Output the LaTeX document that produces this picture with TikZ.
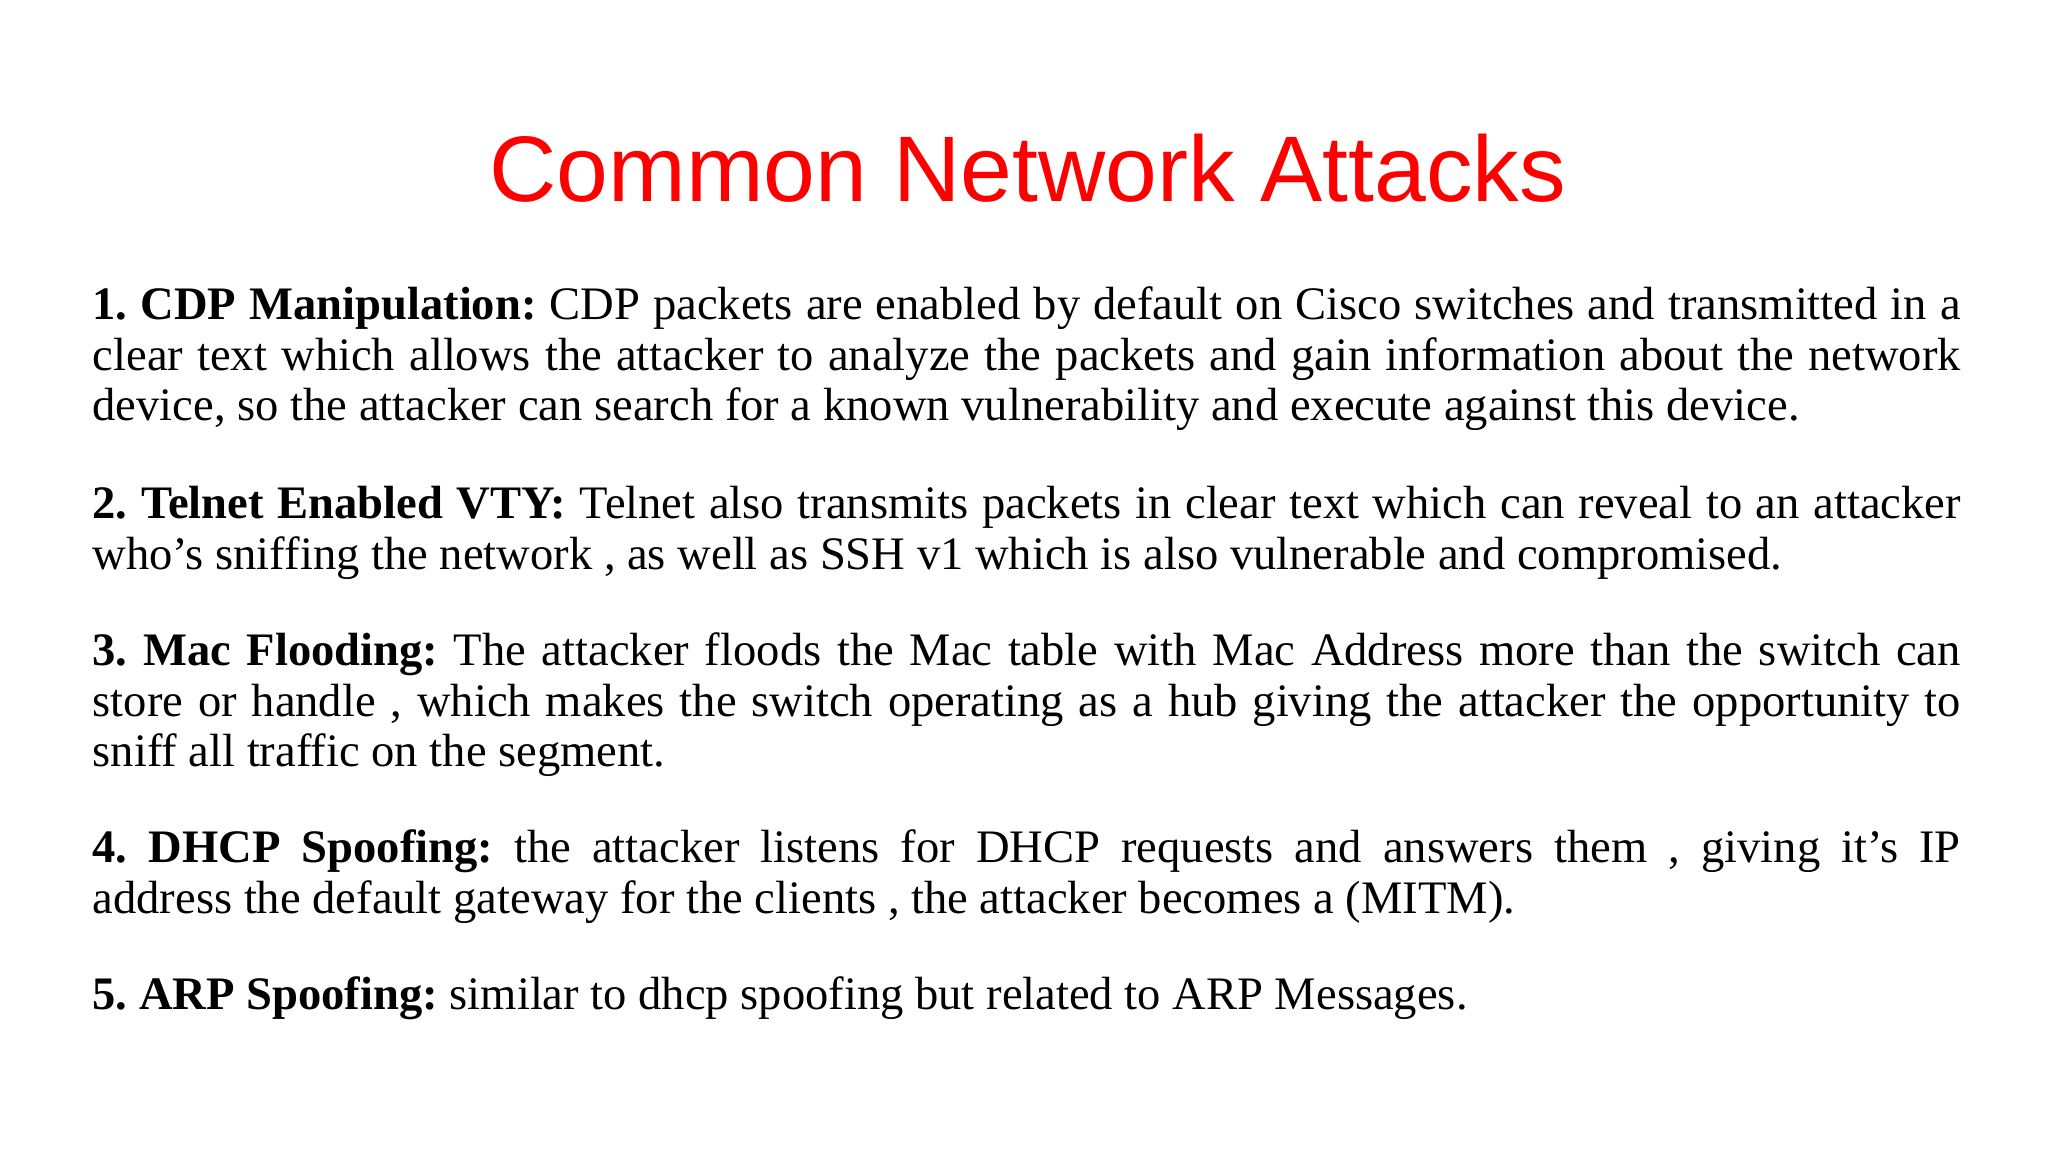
\documentclass[tikz,border=0pt]{standalone}
\usepackage{fontspec}
\setmainfont{Liberation Serif}
\newfontfamily\titlefont{Liberation Sans}
\definecolor{titlered}{RGB}{255,0,0}
\frenchspacing
\begin{document}
\begin{tikzpicture}[x=1cm,y=1cm,
  para/.style={anchor=base west,text width=18.68cm,inner sep=0pt,align=justify,font=\fontsize{13.25}{14.3}\selectfont}]
\useasboundingbox (0,0) rectangle (20.48,11.52);
\node[font=\titlefont\fontsize{26.5}{30}\selectfont,text=titlered,anchor=base] (title) at (10.28,9.5) {Common Network Attacks};
\node[para] (p1) at (0.92,8.32) {\textbf{1. CDP Manipulation:} CDP packets are enabled by default on Cisco switches and transmitted in a clear text which allows the attacker to analyze the packets and gain information about the network device, so the attacker can search for a known vulnerability and execute against this device.};
\node[para] (p2) at (0.92,6.33) {\textbf{2. Telnet Enabled VTY:} Telnet also transmits packets in clear text which can reveal to an attacker who’s sniffing the network , as well as SSH v1 which is also vulnerable and compromised.};
\node[para] (p3) at (0.92,4.86) {\textbf{3. Mac Flooding:} The attacker floods the Mac table with Mac Address more than the switch can\linebreak store or handle , which makes the switch operating as a hub giving the attacker the opportunity to\linebreak sniff all traffic on the segment.};
\node[para] (p4) at (0.92,2.89) {\textbf{4. DHCP Spoofing:} the attacker listens for DHCP requests and answers them , giving it’s IP\linebreak address the default gateway for the clients , the attacker becomes a (MITM).};
\node[para] (p5) at (0.92,1.42) {\textbf{5. ARP Spoofing:} similar to dhcp spoofing but related to ARP Messages.};
\end{tikzpicture}
\end{document}
